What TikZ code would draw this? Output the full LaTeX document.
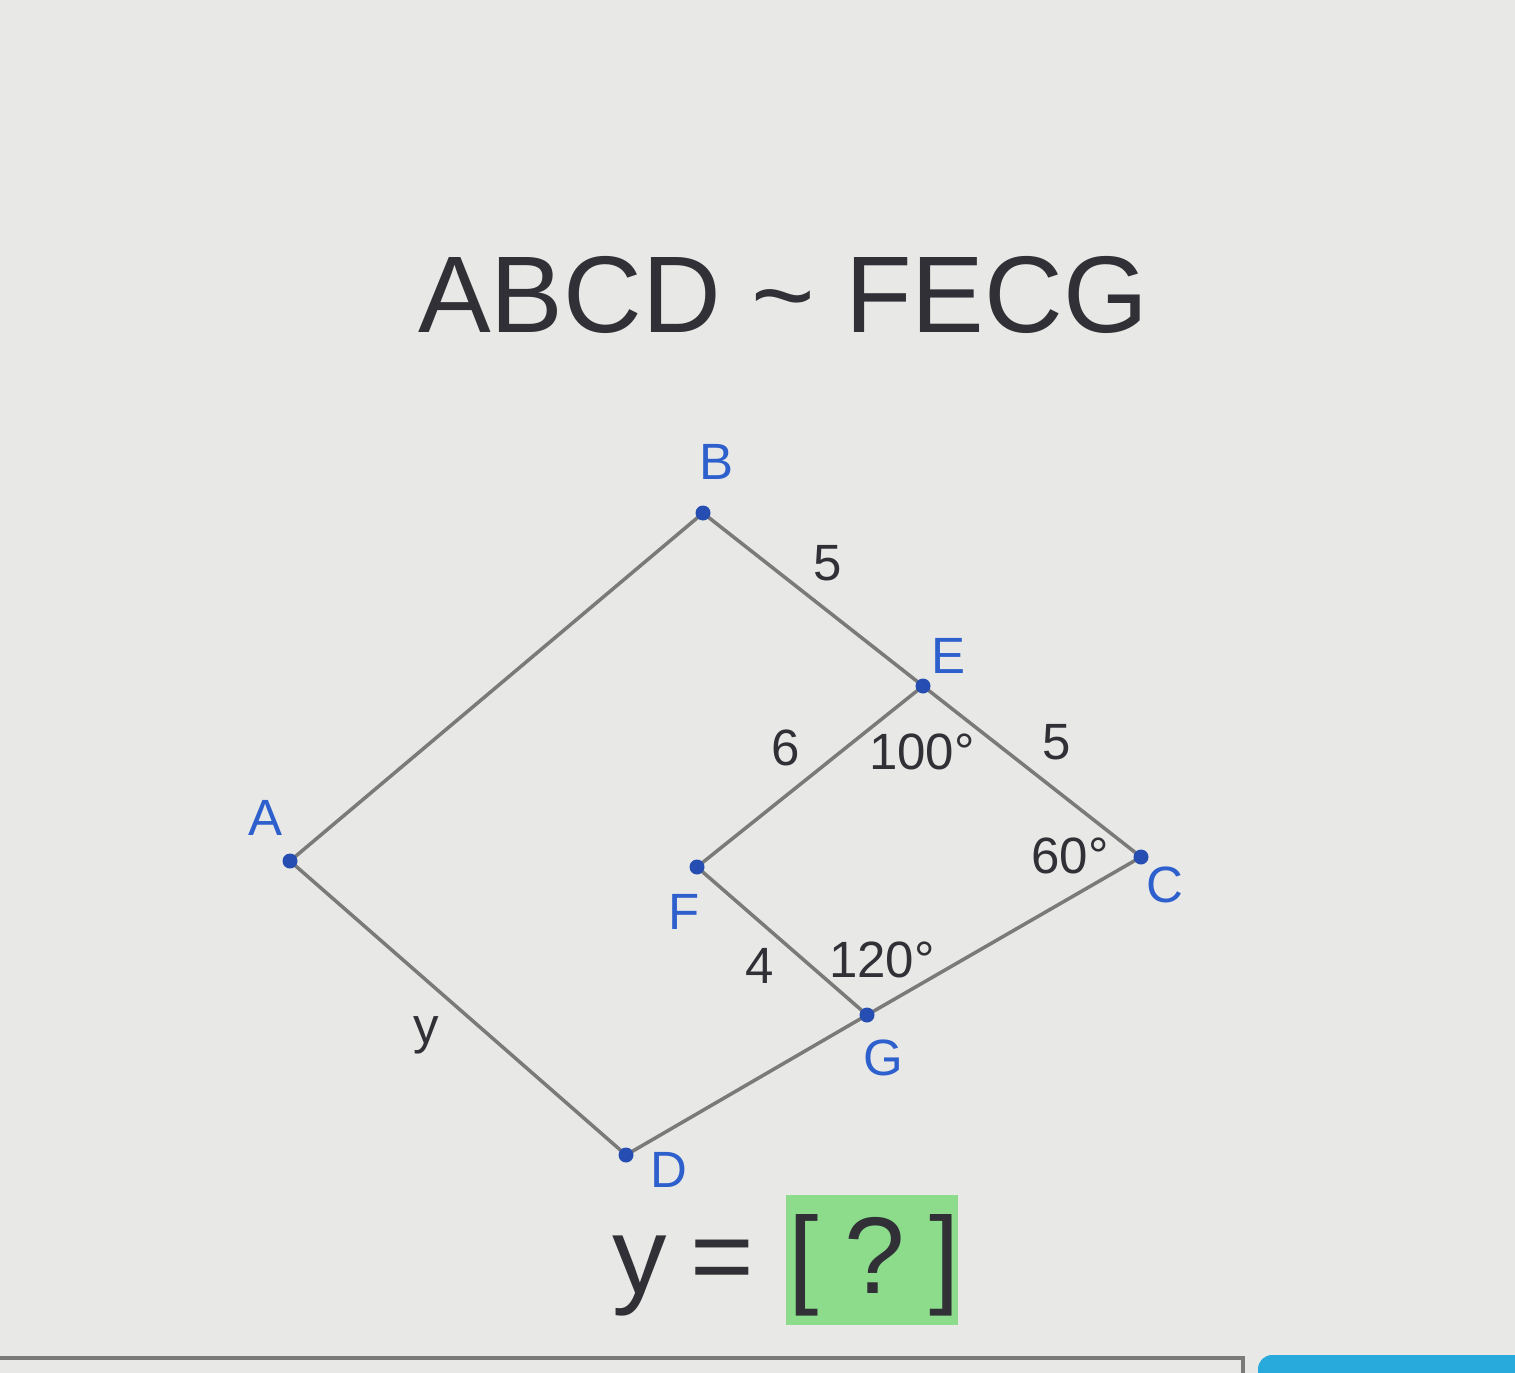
\documentclass[tikz,border=0pt]{standalone}
\usepackage{fontspec}
\setmainfont{Liberation Sans}
\usetikzlibrary{positioning}
\definecolor{bgpaper}{RGB}{232,232,230}
\definecolor{edgegray}{RGB}{122,122,122}
\definecolor{ptblue}{RGB}{38,78,178}
\definecolor{lblblue}{RGB}{45,95,205}
\definecolor{txtgray}{RGB}{48,48,54}
\definecolor{ansgreen}{RGB}{140,220,140}
\definecolor{barblue}{RGB}{40,170,220}
\begin{document}
\begin{tikzpicture}[x=0.01cm, y=-0.01cm,
	edge/.style={draw=edgegray, line width=1pt},
	pt/.style={fill=ptblue},
	vname/.style={text=lblblue, font=\fontsize{14.5}{17}\selectfont, inner sep=0pt},
	meas/.style={text=txtgray, font=\fontsize{14.5}{17}\selectfont, inner sep=0pt},
	big/.style={text=txtgray, font=\fontsize{31}{37}\selectfont, inner sep=0pt, anchor=base}]
	\fill[bgpaper] (0,0) rectangle (1515,1373);
	\useasboundingbox (0,0) rectangle (1515,1373);
	% title
	\node[big] (title) at (783,333) {ABCD \~{} FECG};
	% vertices
	\coordinate (A) at (290,861);
	\coordinate (B) at (703,513);
	\coordinate (C) at (1141,857);
	\coordinate (D) at (626,1155);
	\coordinate (E) at (923,686);
	\coordinate (F) at (697,867);
	\coordinate (G) at (867,1015);
	\draw[edge] (A) -- (B) -- (E) -- (C) -- (G) -- (D) -- cycle;
	\draw[edge] (E) -- (F) -- (G);
	\foreach \p in {A,B,C,D,E,F,G}
		\fill[pt] (\p) circle (7.5);
	% vertex names
	\node[vname] (lA) at (266,818) {A};
	\node[vname] (lB) at (716,462) {B};
	\node[vname] (lC) at (1165,885) {C};
	\node[vname] (lD) at (669,1170) {D};
	\node[vname] (lE) at (948,656) {E};
	\node[vname] (lF) at (684,912) {F};
	\node[vname] (lG) at (883,1058) {G};
	% sides and angles
	\node[meas] (sBE) at (828,563) {5};
	\node[meas] (sEF) at (786,748) {6};
	\node[meas] (sEC) at (1057,742) {5};
	\node[meas] (sFG) at (760,966) {4};
	\node[meas] (sAD) at (426,1035) {y};
	\node[meas] (aE) at (922,752) {100°};
	\node[meas] (aC) at (1070,856) {60°};
	\node[meas] (aG) at (882,960) {120°};
	% answer line
	\node[fill=ansgreen, minimum width=1.71cm, minimum height=1.29cm, inner sep=0pt] (ansbox) at (872,1260) {};
	\node[big] (ylbl) at (640,1293) {y};
	\node[big] (eq) at (722,1293) {=};
	\node[big] (lbr) at (804,1293) {[};
	\node[big] (qm) at (875,1293) {?};
	\node[big] (rbr) at (945,1293) {]};
	% input field and button
	\draw[edgegray, line width=1.2pt] (0,1358) -- (1243,1358) -- (1243,1380);
	\fill[barblue, rounded corners=4] (1258,1355) rectangle (1530,1390);
\end{tikzpicture}
\end{document}
